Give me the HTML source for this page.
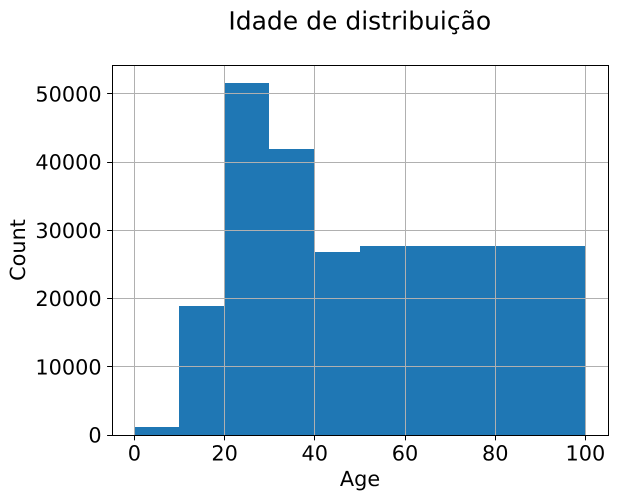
<!DOCTYPE html>
<html>
<head>
<meta charset="utf-8">
<style>
html,body{margin:0;padding:0;background:#fff;width:617px;height:500px;overflow:hidden}
svg{display:block}
text{font-family:"DejaVu Sans",sans-serif;fill:#000;text-rendering:geometricPrecision}
</style>
</head>
<body>
<svg id="chart" width="617" height="500" viewBox="0 0 617 500" xmlns="http://www.w3.org/2000/svg">
<rect width="617" height="500" fill="#fff"/>
<text x="359.8" y="29.5" font-size="25" text-anchor="middle">Idade de distribuição</text>
<text x="360" y="486" font-size="20.83" text-anchor="middle">Age</text>
<text transform="translate(25,250) rotate(-90)" font-size="20.83" text-anchor="middle">Count</text>
</svg>
<script>
const binEdges = [0, 10, 20, 30, 40, 50, 60, 70, 80, 90, 100];
const counts = [1190, 18920, 51580, 41920, 26830, 27700, 27700, 27700, 27700, 27700];
const xTicks = [0, 20, 40, 60, 80, 100];
const yTicks = [0, 10000, 20000, 30000, 40000, 50000];

const svg = document.getElementById('chart');
const NS = 'http://www.w3.org/2000/svg';
const plot = {left: 112, right: 608, top: 65, bottom: 435};
const xScale = v => 134.4 + v * 4.51;
const yScale = v => 435.1 - v * 0.006825;
const snapEdge = p => Math.floor(p + 0.15);
const snapLine = p => Math.floor(p) + 0.5;

function make(tag, attrs, parent) {
  const el = document.createElementNS(NS, tag);
  for (const k in attrs) el.setAttribute(k, attrs[k]);
  (parent || svg).appendChild(el);
  return el;
}

counts.forEach((c, i) => {
  const x0 = snapEdge(xScale(binEdges[i]));
  const x1 = snapEdge(xScale(binEdges[i + 1]));
  const top = Math.round(yScale(c));
  const bar = make('rect', {x: x0, y: top, width: x1 - x0, height: plot.bottom - top, fill: '#1f77b4', 'shape-rendering': 'crispEdges'});
  
  
});

xTicks.forEach(t => {
  const x = snapLine(xScale(t));
  const grid = make('line', {x1: x, x2: x, y1: plot.top, y2: plot.bottom, stroke: '#b0b0b0', 'stroke-width': 1});
  
  
  const tick = make('line', {x1: x, x2: x, y1: plot.bottom, y2: plot.bottom + 5.4, stroke: '#000', 'stroke-width': 1});
  
  
  const label = make('text', {x: xScale(t), y: 460.5, 'font-size': 20.83, 'text-anchor': 'middle'});
  
  
  label.textContent = t;
});

yTicks.forEach(t => {
  const y = snapLine(yScale(t));
  const grid = make('line', {x1: plot.left, x2: plot.right, y1: y, y2: y, stroke: '#b0b0b0', 'stroke-width': 1});
  
  
  const tick = make('line', {x1: plot.left - 4.9, x2: plot.left, y1: y, y2: y, stroke: '#000', 'stroke-width': 1});
  
  
  const label = make('text', {x: 101.6, y: yScale(t) + 7.5, 'font-size': 20.83, 'text-anchor': 'end'});
  
  
  label.textContent = t;
});

const frame = make('rect', {x: plot.left + 0.5, y: plot.top + 0.5, width: plot.right - plot.left, height: plot.bottom - plot.top, fill: 'none', stroke: '#000', 'stroke-width': 1});


</script>
</body>
</html>
